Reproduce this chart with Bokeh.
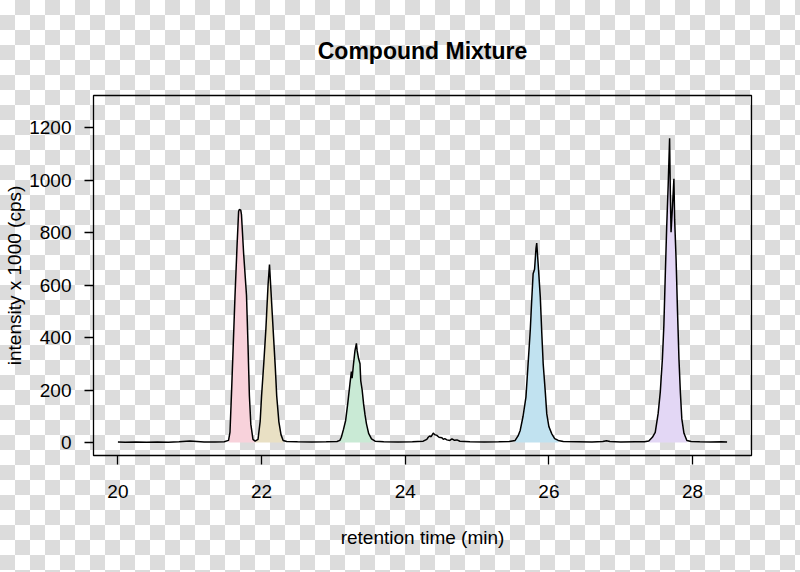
from bokeh.plotting import figure
from bokeh.models import Range1d, FixedTicker, Title
from bokeh.embed import file_html
from bokeh.resources import INLINE

# ---- data ----
times = [20.00, 20.10, 20.25, 20.40, 20.55, 20.70, 20.85, 21.00, 21.10, 21.20, 21.35, 21.48,
         21.54, 21.56, 21.58, 21.60, 21.63, 21.66, 21.68, 21.69, 21.71, 21.72, 21.75, 21.79,
         21.81, 21.83, 21.85, 21.88, 21.91,
         21.95, 21.98, 22.00, 22.03, 22.06, 22.09, 22.11, 22.13, 22.16, 22.19, 22.21, 22.24,
         22.27, 22.30, 22.35,
         22.50, 22.70, 22.90, 23.05,
         23.09, 23.11, 23.14, 23.17, 23.20, 23.23, 23.25, 23.26, 23.28, 23.30, 23.32, 23.33,
         23.35, 23.37, 23.38, 23.40, 23.42, 23.44, 23.46, 23.49, 23.53, 23.58,
         23.70, 23.90, 24.10, 24.25,
         24.30, 24.32, 24.34, 24.36, 24.39, 24.41, 24.44, 24.47, 24.51, 24.53, 24.55, 24.58,
         24.62, 24.65, 24.68, 24.72, 24.76,
         24.90, 25.10, 25.30, 25.45,
         25.53, 25.57, 25.60, 25.64, 25.68, 25.71, 25.74, 25.76, 25.78, 25.80, 25.82, 25.83,
         25.85, 25.88, 25.90, 25.92, 25.95, 25.97, 26.00, 26.04, 26.08, 26.13, 26.20,
         26.40, 26.60, 26.75, 26.80, 26.85, 27.00, 27.20, 27.33,
         27.39, 27.44, 27.48, 27.52, 27.55, 27.58, 27.60, 27.62, 27.64, 27.66, 27.68, 27.69,
         27.70, 27.72, 27.74, 27.75, 27.77, 27.79, 27.81, 27.83, 27.85, 27.88, 27.92, 27.98,
         28.10, 28.25, 28.40, 28.48]
intensity = [2, 1, 2, 1, 2, 1, 3, 6, 4, 2, 2, 3,
             8, 40, 179, 330, 560, 760, 880, 888, 885, 868, 720, 560,
             380, 179, 70, 12, 5,
             12, 80, 179, 300, 434, 600, 678, 580, 434, 290, 179, 80,
             30, 8, 4,
             3, 2, 3, 4,
             8, 20, 50, 84, 150, 224, 270, 245, 300, 350, 378, 350,
             320, 300, 236, 200, 147, 105, 71, 35, 14, 5,
             3, 2, 3, 5,
             12, 20, 25, 22, 36, 30, 27, 20, 18, 12, 15, 10,
             8, 14, 9, 10, 5,
             3, 2, 3, 4,
             8, 25, 46, 100, 173, 300, 427, 540, 643, 660, 740, 760,
             680, 553, 420, 300, 190, 109, 60, 33, 15, 8, 4,
             3, 2, 4, 7, 4, 2, 3, 3,
             6, 20, 39, 110, 192, 320, 446, 640, 827, 980, 1159, 950,
             801, 900, 1005, 850, 700, 500, 319, 190, 90, 35, 8, 4,
             3, 2, 3, 2]

peak_start = [21.50, 21.91, 23.08, 25.50, 27.36]
peak_end = [21.91, 22.32, 23.56, 26.15, 27.96]
peak_colors = ["#F8D2DB", "#E9E0C4", "#C9EAD5", "#C1E2F0", "#E3D7F5"]

x_ticks = [20, 22, 24, 26, 28]
y_ticks = [0, 200, 400, 600, 800, 1000, 1200]

FONT = "Liberation Sans"

p = figure(output_backend="svg", toolbar_location=None,
           frame_width=658, frame_height=360,
           x_range=Range1d(19.66, 28.82), y_range=Range1d(-49.5, 1322),
           min_border_left=93, min_border_right=49, min_border_top=95, min_border_bottom=109)
p.background_fill_color = None
p.border_fill_color = None
p.outline_line_color = "black"
p.outline_line_width = 1.3
p.grid.visible = False

# peak fills
for s, e, c in zip(peak_start, peak_end, peak_colors):
    xs = [t for t in times if s <= t <= e]
    ys = [v for t, v in zip(times, intensity) if s <= t <= e]
    p.varea(x=xs, y1=[0] * len(xs), y2=ys, fill_color=c, fill_alpha=1.0)

p.line(times, intensity, line_color="black", line_width=1.5)

for ax in (p.xaxis[0], p.yaxis[0]):
    ax.axis_line_color = None
    ax.major_tick_in = 0
    ax.major_tick_out = 9
    ax.major_tick_line_width = 1.3
    ax.minor_tick_line_color = None
    ax.major_label_text_font = FONT
    ax.major_label_text_font_size = "19px"
    ax.major_label_text_color = "black"
    ax.axis_label_text_font = FONT
    ax.axis_label_text_font_size = "19px"
    ax.axis_label_text_font_style = "normal"
    ax.axis_label_text_color = "black"

p.xaxis.ticker = FixedTicker(ticks=x_ticks)
p.yaxis.ticker = FixedTicker(ticks=y_ticks)
p.xaxis.axis_label = "retention time (min)"
p.yaxis.axis_label = "intensity x 1000 (cps)"
p.xaxis.major_label_standoff = 20
p.xaxis.axis_label_standoff = 26
p.yaxis.major_label_standoff = 13
p.yaxis.axis_label_standoff = 1
p.yaxis.major_label_orientation = "horizontal"

p.add_layout(Title(text="Compound Mixture", align="center", text_font=FONT,
                   text_font_size="23px", text_font_style="bold", text_color="black",
                   standoff=64), "above")

html = file_html(p, INLINE, title="Compound Mixture")
css = ("<style>html,body{background-color:#ffffff;"
       "background-image:conic-gradient(#dcdcdc 25%, #ffffff 0 50%, #dcdcdc 0 75%, #ffffff 0);"
       "background-size:30px 30px;background-position:0 0;}</style>")
html = html.replace("</head>", css + "</head>", 1)
open("out.html", "w").write(html)
